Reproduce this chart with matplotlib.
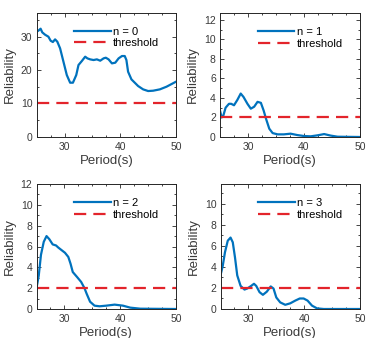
import matplotlib
matplotlib.use("Agg")
import matplotlib.pyplot as plt
from matplotlib.ticker import MultipleLocator

plt.rcParams['font.family'] = ['Liberation Sans', 'DejaVu Sans']

# n = 0
p0 = [25.0, 25.3, 25.7, 26.0, 26.5, 27.1, 27.5, 27.9, 28.3, 28.7, 29.2, 29.8, 30.4, 31.0,
      31.5, 32.1, 32.5, 33.1, 33.7, 34.1, 34.6, 35.2, 35.8, 36.4, 37.0, 37.4, 37.9, 38.5,
      39.1, 39.7, 40.3, 40.8, 41.1, 41.4, 42.0, 42.6, 43.2, 44.1, 45.0, 45.9, 47.1, 48.3, 50.0]
r0 = [31.5, 31.8, 32.4, 31.3, 30.6, 30.0, 28.8, 28.4, 29.2, 28.5, 26.5, 22.5, 18.5, 16.2,
      16.2, 18.5, 21.5, 22.7, 24.0, 23.5, 23.2, 23.0, 23.2, 22.8, 23.5, 23.7, 23.2, 22.0,
      22.2, 23.5, 24.2, 24.2, 23.0, 19.5, 17.2, 16.2, 15.2, 14.2, 13.7, 13.8, 14.2, 15.0, 16.5]

# n = 1
p1 = [25.0, 25.3, 25.6, 26.0, 26.6, 27.0, 27.5, 28.1, 28.7, 29.2, 29.9, 30.5, 31.1, 31.7,
      32.3, 32.8, 33.2, 33.8, 34.4, 35.3, 36.4, 37.6, 38.8, 40.0, 41.2, 42.4, 43.6, 44.8, 46.0, 50.0]
r1 = [2.7, 2.0, 2.2, 3.0, 3.4, 3.4, 3.25, 3.8, 4.45, 4.1, 3.4, 2.9, 3.1, 3.6,
      3.5, 2.7, 1.9, 0.85, 0.4, 0.27, 0.27, 0.34, 0.2, 0.1, 0.07, 0.17, 0.3, 0.14, 0.03, 0.0]

# n = 2
p2 = [25.0, 25.4, 25.8, 26.3, 26.8, 27.3, 27.9, 28.5, 28.9, 29.5, 30.1, 30.7, 31.1, 31.5,
      32.3, 33.0, 33.6, 34.0, 34.6, 35.4, 36.3, 37.5, 39.0, 40.5, 41.8, 43.6, 50.0]
r2 = [2.0, 3.2, 5.2, 6.45, 7.0, 6.7, 6.2, 6.1, 5.9, 5.65, 5.4, 5.0, 4.35, 3.55,
      3.05, 2.6, 2.0, 1.45, 0.7, 0.32, 0.26, 0.32, 0.42, 0.32, 0.13, 0.03, 0.0]

# n = 3
p3 = [25.0, 25.4, 25.8, 26.3, 26.8, 27.2, 27.6, 28.0, 28.6, 29.3, 29.8, 30.5, 31.0, 31.4,
      32.0, 32.6, 33.3, 34.0, 34.5, 35.0, 35.7, 36.6, 37.5, 38.4, 39.2, 39.9, 40.6, 41.4,
      42.3, 43.5, 50.0]
r3 = [3.2, 4.1, 5.4, 6.5, 6.8, 6.35, 4.9, 3.2, 2.2, 1.85, 1.95, 2.2, 2.4, 2.2,
      1.6, 1.35, 1.65, 2.15, 1.95, 1.1, 0.63, 0.4, 0.54, 0.8, 1.0, 1.0, 0.8, 0.32,
      0.06, 0.0, 0.0]

labels = ['n = 0', 'n = 1', 'n = 2', 'n = 3']
thresholds = [10, 2, 2, 2]
ylims = [37.2, 12.7, 12.0, 11.9]
ymajor = [10, 2, 2, 2]
yminor = [5, 1, 1, 1]
periods = [p0, p1, p2, p3]
values = [r0, r1, r2, r3]

W, H = 368, 338
fig = plt.figure(figsize=(W / 100, H / 100), dpi=100)
# axes boxes in pixels: left, top, right, bottom
boxes = [(36.7, 12.7, 176, 136.7), (220, 13, 360, 137),
         (36.5, 184, 176, 309), (220.5, 184, 360, 309)]

dark = '#262626'
grey = '#3a3a3a'
for i in range(4):
    l, t, r, b = boxes[i]
    ax = fig.add_axes([l / W, 1 - b / H, (r - l) / W, (b - t) / H])
    ax.plot(periods[i], values[i], color='#0072BD', lw=1.6, label=labels[i])
    ax.axhline(thresholds[i], color='#e3242b', lw=1.6, ls=(0, (5.5, 3.2)), label='threshold')
    ax.set_xlim(25, 50)
    ax.set_ylim(0, ylims[i])
    ax.set_xticks([30, 40, 50])
    ax.xaxis.set_minor_locator(MultipleLocator(2.5))
    ax.yaxis.set_major_locator(MultipleLocator(ymajor[i]))
    ax.yaxis.set_minor_locator(MultipleLocator(yminor[i]))
    ax.tick_params(which='both', direction='in', top=True, right=True, color=dark,
                   labelcolor=grey, labelsize=7.5, width=0.6)
    ax.tick_params(axis='x', pad=3.5)
    ax.tick_params(axis='y', pad=3)
    ax.tick_params(which='major', length=3)
    ax.tick_params(which='minor', length=1.6)
    for s in ax.spines.values():
        s.set_color(dark)
        s.set_linewidth(0.7)
    ax.set_xlabel('Period(s)', fontsize=9.5, color=grey, labelpad=2.5)
    ax.set_ylabel('Reliability', fontsize=9.5, color=grey, labelpad=3.5)
    ax.legend(loc='upper left', bbox_to_anchor=(0.27, 0.885), frameon=False, fontsize=8,
              handlelength=3.3, handletextpad=0.2, labelspacing=0.12,
              borderpad=0, borderaxespad=0)

fig.savefig('out.png', dpi=100)
